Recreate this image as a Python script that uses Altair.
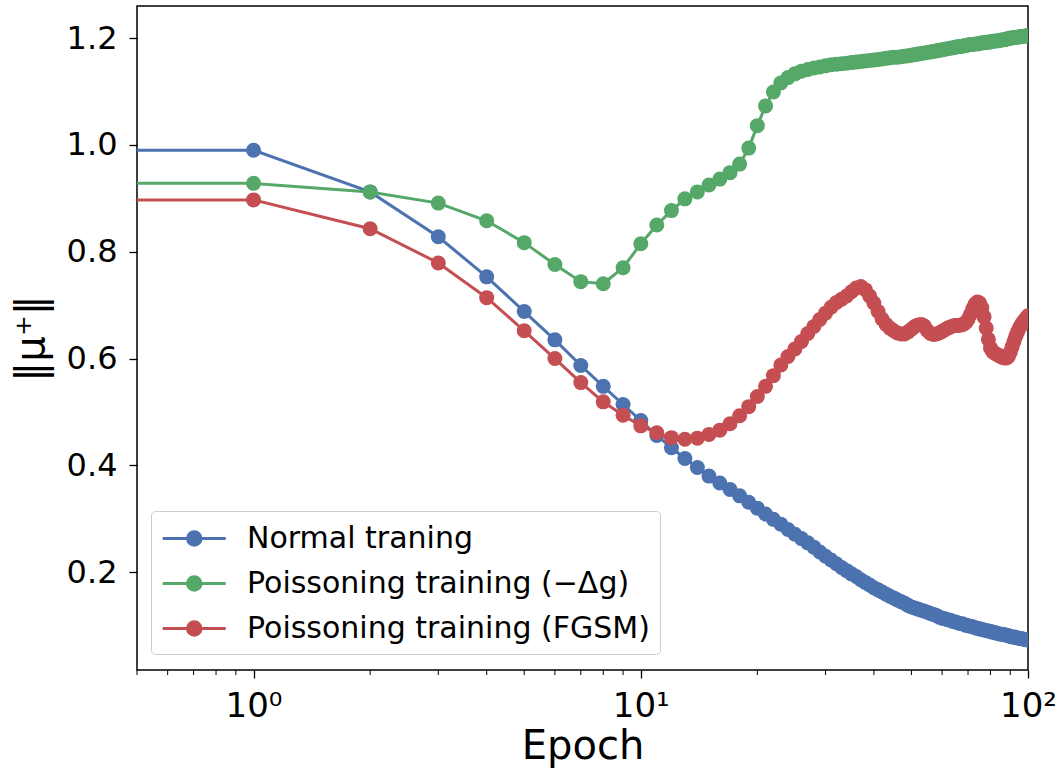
import altair as alt
import pandas as pd

# ---- data ----
epochs = list(range(0, 101))

normal = [0.990, 0.990, 0.912, 0.828, 0.753, 0.688, 0.635, 0.587, 0.548, 0.514, 0.484,
          0.456, 0.433, 0.413, 0.396, 0.380, 0.367, 0.355, 0.343, 0.331, 0.320,
          0.309, 0.299, 0.290, 0.280, 0.271, 0.263, 0.255, 0.247, 0.238, 0.230,
          0.223, 0.216, 0.209, 0.203, 0.197, 0.192, 0.186, 0.181, 0.176, 0.171,
          0.167, 0.163, 0.159, 0.155, 0.152, 0.148, 0.145, 0.142, 0.138, 0.135,
          0.133, 0.131, 0.129, 0.127, 0.125, 0.123, 0.121, 0.119, 0.116, 0.114,
          0.113, 0.111, 0.110, 0.108, 0.107, 0.105, 0.104, 0.103, 0.101, 0.100,
          0.099, 0.098, 0.096, 0.095, 0.094, 0.093, 0.092, 0.091, 0.090, 0.089,
          0.088, 0.087, 0.086, 0.085, 0.084, 0.084, 0.083, 0.082, 0.081, 0.080,
          0.079, 0.079, 0.078, 0.077, 0.076, 0.076, 0.075, 0.074, 0.074, 0.073]

poison_g = [0.928, 0.928, 0.912, 0.891, 0.858, 0.817, 0.776, 0.744, 0.740, 0.770, 0.815,
            0.850, 0.877, 0.899, 0.912, 0.925, 0.936, 0.948, 0.964, 0.994, 1.036,
            1.073, 1.099, 1.116, 1.126, 1.133, 1.138, 1.141, 1.144, 1.146, 1.148,
            1.150, 1.151, 1.152, 1.153, 1.154, 1.155, 1.156, 1.157, 1.158, 1.159,
            1.160, 1.161, 1.162, 1.163, 1.164, 1.164, 1.165, 1.166, 1.167, 1.168,
            1.169, 1.170, 1.171, 1.172, 1.173, 1.174, 1.175, 1.176, 1.177, 1.178,
            1.179, 1.180, 1.181, 1.182, 1.183, 1.184, 1.184, 1.185, 1.186, 1.187,
            1.188, 1.188, 1.189, 1.189, 1.190, 1.191, 1.191, 1.192, 1.192, 1.193,
            1.194, 1.194, 1.195, 1.195, 1.196, 1.197, 1.197, 1.198, 1.199, 1.200,
            1.200, 1.201, 1.201, 1.202, 1.202, 1.203, 1.203, 1.204, 1.204, 1.205]

poison_fgsm = [0.897, 0.897, 0.843, 0.779, 0.714, 0.652, 0.600, 0.555, 0.519, 0.494, 0.474,
               0.461, 0.452, 0.449, 0.451, 0.458, 0.466, 0.478, 0.493, 0.510, 0.529,
               0.548, 0.568, 0.588, 0.604, 0.618, 0.632, 0.647, 0.660, 0.673, 0.685,
               0.696, 0.705, 0.711, 0.717, 0.725, 0.732, 0.735, 0.729, 0.717, 0.704,
               0.688, 0.674, 0.664, 0.657, 0.652, 0.648, 0.646, 0.646, 0.650, 0.655,
               0.660, 0.663, 0.664, 0.661, 0.652, 0.647, 0.645, 0.646, 0.648, 0.651,
               0.654, 0.657, 0.659, 0.661, 0.662, 0.662, 0.663, 0.664, 0.667, 0.673,
               0.683, 0.693, 0.702, 0.706, 0.704, 0.695, 0.678, 0.657, 0.636, 0.620,
               0.613, 0.610, 0.608, 0.606, 0.604, 0.602, 0.601, 0.601, 0.604, 0.612,
               0.622, 0.632, 0.642, 0.650, 0.657, 0.663, 0.668, 0.672, 0.676, 0.680]

series_names = ["Normal traning", "Poissoning training (\u2212\u0394g)", "Poissoning training (FGSM)"]
series_colors = ["#4C72B0", "#55A868", "#C44E52"]
series_values = [normal, poison_g, poison_fgsm]

major_ticks = [1, 10, 100]
minor_ticks = [0.5, 0.6, 0.7, 0.8, 0.9, 2, 3, 4, 5, 6, 7, 8, 9,
               20, 30, 40, 50, 60, 70, 80, 90]
y_ticks = [0.2, 0.4, 0.6, 0.8, 1.0, 1.2]

rows = []
for name, vals in zip(series_names, series_values):
    for e, v in zip(epochs, vals):
        rows.append({"epoch": e, "value": v, "series": name})
df = pd.DataFrame(rows)
minor_df = pd.DataFrame({"minor": minor_ticks})

FONT = "DejaVu Sans"
W, H = 891, 664
LW = 3.0

xscale = alt.Scale(type="log", domain=[0.5, 100], nice=False)
yscale = alt.Scale(domain=[0.017, 1.26], nice=False, zero=False)
cscale = alt.Scale(domain=series_names, range=series_colors)

xaxis = alt.Axis(values=major_ticks,
                 labelExpr="datum.value == 1 ? '10\u2070' : (datum.value == 10 ? '10\u00b9' : '10\u00b2')",
                 tickSize=8, tickWidth=1.3, tickColor="black", domain=False, grid=False,
                 labelFont=FONT, labelFontSize=34, labelColor="black", labelPadding=11,
                 titleFont=FONT, titleFontSize=40, titleFontWeight="normal", titleColor="black",
                 titlePadding=3, labelFlush=False, labelOverlap=False)
yaxis = alt.Axis(values=y_ticks, format=".1f",
                 tickSize=8, tickWidth=1.3, tickColor="black", domain=False, grid=False,
                 labelFont=FONT, labelFontSize=32, labelColor="black", labelPadding=12,
                 titleFont=FONT, titleFontSize=40, titleFontWeight="normal", titleColor="black",
                 titlePadding=15, labelFlush=False)

# legend symbol: a line with a dot in its middle
sym_path = ("M-1,0L3,0M0.57,0A0.43,0.43,0,1,1,1.43,0"
            "A0.43,0.43,0,1,1,0.57,0Z")
legend = alt.Legend(title=None, orient="none", legendX=14, legendY=505,
                    symbolType=sym_path, symbolSize=992, symbolStrokeWidth=LW,
                    symbolOpacity=1, labelFont=FONT, labelFontSize=30, labelColor="black",
                    labelLimit=0, labelOffset=51, padding=10, rowPadding=12,
                    fillColor="rgba(255,255,255,0.8)", strokeColor="#cccccc",
                    cornerRadius=4)

base = alt.Chart(df).transform_calculate(xp="max(datum.epoch, 0.001)")

layers = []
layers.append(
    alt.Chart(minor_df).mark_rule(color="black", strokeWidth=1).encode(
        x=alt.X("minor:Q", scale=xscale, axis=xaxis, title="Epoch"),
        y=alt.value(H), y2=alt.value(H + 5))
)
for name in series_names:
    sub = base.transform_filter(alt.datum.series == name)
    layers.append(
        sub.mark_line(strokeWidth=LW, clip=True).encode(
            x=alt.X("xp:Q", scale=xscale, axis=xaxis, title="Epoch"),
            y=alt.Y("value:Q", scale=yscale, axis=yaxis, title="\u2016\u03bc\u207a\u2016"),
            color=alt.Color("series:N", scale=cscale, legend=legend))
    )
    layers.append(
        sub.transform_filter(alt.datum.epoch >= 1).mark_point(
            filled=True, size=225, opacity=1, strokeWidth=0, clip=True).encode(
            x=alt.X("xp:Q", scale=xscale, axis=xaxis, title="Epoch"),
            y=alt.Y("value:Q", scale=yscale, axis=yaxis, title="\u2016\u03bc\u207a\u2016"),
            fill=alt.Fill("series:N", scale=cscale, legend=None))
    )

chart = alt.layer(*layers).properties(
    width=W, height=H,
    autosize=alt.AutoSizeParams(type="none"),
    padding={"left": 137, "top": 6, "right": 34, "bottom": 99},
    background="white",
).configure(font=FONT, view=alt.ViewConfig(stroke="black", strokeWidth=1.5))

chart.save("out.html", embed_options={"renderer": "svg", "actions": False})
